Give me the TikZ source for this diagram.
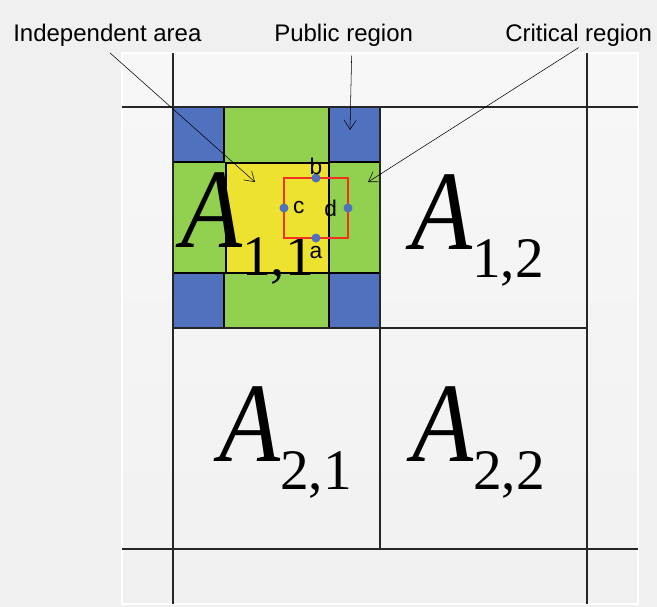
\documentclass[tikz,border=0pt]{standalone}
\usepackage{fontspec}
\setmainfont{Liberation Serif}
\newfontfamily\labelfont{Liberation Sans}
\usetikzlibrary{arrows.meta,positioning}

\definecolor{pubblue}{HTML}{4F71BE}
\definecolor{critgreen}{HTML}{92D050}
\definecolor{indyellow}{HTML}{EDE22F}
\definecolor{winred}{HTML}{F0321E}
\definecolor{paper}{HTML}{F0F0F0}

\newcommand*{\xmin}{122}
\newcommand*{\xmax}{638}
\newcommand*{\ymin}{53}
\newcommand*{\ymax}{604}
\newcommand*{\xleft}{173}
\newcommand*{\xmid}{380}
\newcommand*{\xright}{587}
\newcommand*{\ytop}{107}
\newcommand*{\ymid}{328}
\newcommand*{\ybot}{549}

\newcommand*{\blocklabel}[2]{{\fontsize{85}{85}\selectfont\itshape\scalebox{0.88}[1]{A}}\raisebox{-21pt}{\fontsize{43}{43}\selectfont #1,#2}}

\begin{document}
\begin{tikzpicture}
[
	x=0.75pt, y=-0.75pt,
	gridline/.style={line width=1.3pt, black!85},
	cellline/.style={line width=0.8pt, black},
	callout/.style={font=\labelfont\fontsize{18}{18}\selectfont, inner sep=0pt, anchor=base west},
	pointer/.style={thin, -{Straight Barb[length=7pt,width=9pt]}},
	closedpt/.style={circle, fill=pubblue, inner sep=0pt, minimum size=6.75pt},
	ptlabel/.style={font=\labelfont\fontsize{17}{17}\selectfont, inner sep=0pt},
	block/.style={inner sep=0pt, anchor=base west}
]

	% background
	\useasboundingbox (0,0) rectangle (657,607);
	\fill[paper] (0,0) rectangle (657,607);
	\shade[top color=gray!6, bottom color=gray!11, draw=white, line width=1pt] (\xmin,\ymin) rectangle (\xmax,\ymax);

	% block A11: public, critical and independent parts
	\draw[cellline, fill=critgreen] (\xleft,\ytop) rectangle (\xmid,\ymid);
	\foreach \x/\y in {173/107, 329/107, 173/273, 329/273}
		\draw[cellline, fill=pubblue] (\x,\y) rectangle +(51,55);
	\draw[cellline, fill=indyellow] (226,163) rectangle (329,273);

	% grid
	\draw[gridline] (\xmin,\ytop) -- (\xmax,\ytop);
	\draw[gridline] (\xmin,\ybot) -- (\xmax,\ybot);
	\draw[gridline] (\xleft,\ymin) -- (\xleft,\ymax);
	\draw[gridline] (\xright,\ymin) -- (\xright,\ymax);
	\draw[gridline] (\xmid,\ytop) -- (\xmid,\ybot);
	\draw[gridline] (\xleft,\ymid) -- (\xright,\ymid);

	% block names
	\node[block] (a11) at (181,247) {\blocklabel{1}{1}};
	\node[block] (a12) at (411,249) {\blocklabel{1}{2}};
	\node[block] (a21) at (219,461) {\blocklabel{2}{1}};
	\node[block] (a22) at (412,461) {\blocklabel{2}{2}};

	% window and its points
	\draw[winred, line width=1pt] (284,178) rectangle (348,238);
	\node[closedpt] (pa) at (316,238) {};
	\node[closedpt] (pb) at (316,178) {};
	\node[closedpt] (pc) at (284,208) {};
	\node[closedpt] (pd) at (348,208) {};
	\node[ptlabel, below=2.5pt of pa] {a};
	\node[ptlabel, above=-1pt of pb] {b};
	\node[ptlabel, right=3pt of pc] {c};
	\node[ptlabel, left=4.5pt of pd] {d};

	% callouts
	\node[callout] (indep) at (13,41) {Independent area};
	\node[callout] (public) at (274,41) {Public region};
	\node[callout] (crit) at (505,41) {Critical region};

	\coordinate (indeptip) at (255,182);
	\coordinate (publictip) at (350,130);
	\coordinate (crittip) at (368,182);

	\draw[pointer] ([xshift=2pt,yshift=-5pt]indep.south) -- (indeptip);
	\draw[pointer] ([xshift=6pt,yshift=-7pt]public.south) -- (publictip);
	\draw[pointer] ([yshift=-1pt]crit.south) -- (crittip);

\end{tikzpicture}
\end{document}
